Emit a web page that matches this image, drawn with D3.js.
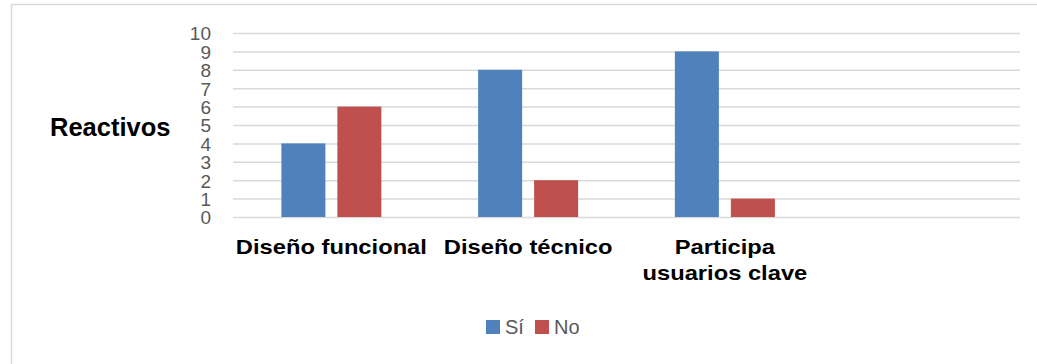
<!DOCTYPE html>
<html>
<head>
<meta charset="utf-8">
<script src="https://cdn.jsdelivr.net/npm/d3@7"></script>
<style>
  html, body { margin: 0; padding: 0; background: #fff; }
  svg { display: block; }
</style>
</head>
<body>
<svg id="chart" width="1037" height="364"></svg>
<script>
// Category slots (the last slot is left empty in the source sheet)
const categories = ["Diseño funcional", "Diseño técnico", "Participa usuarios clave", ""];
const categoryLines = [["Diseño funcional"], ["Diseño técnico"], ["Participa", "usuarios clave"], []];
const seriesNames = ["Sí", "No"];
const siValues = [4, 8, 9];
const noValues = [6, 2, 1];
const yTicks = [0, 1, 2, 3, 4, 5, 6, 7, 8, 9, 10];
const seriesColors = ["#4F81BD", "#C0504D"];

const svg = d3.select("#chart");

// Outer chart frame
svg.append("rect")
  .attr("x", 11.5).attr("y", 4.5)
  .attr("width", 1100).attr("height", 500)
  .attr("fill", "#fff")
  .attr("stroke", "#d9d9d9")
  .attr("stroke-width", 1.5);

const plot = { left: 233, right: 1020, top: 33, bottom: 217 };

const y = d3.scaleLinear().domain([0, 10]).range([plot.bottom, plot.top]);
const x0 = d3.scaleBand().domain(categories.map((c, i) => i)).range([plot.left, plot.right]).padding(0);
const x1 = d3.scaleBand().domain(seriesNames).range([0, x0.bandwidth()])
  .paddingInner(0.214).paddingOuter(0.864);

// Gridlines and value labels
const yAxis = d3.axisLeft(y).tickValues(yTicks).tickSize(-(plot.right - plot.left)).tickPadding(22);
const gAxis = svg.append("g").attr("transform", `translate(${plot.left},0)`).call(yAxis);
gAxis.select(".domain").remove();
gAxis.selectAll(".tick line").attr("stroke", "#d9d9d9").attr("stroke-width", 1.5);
gAxis.selectAll(".tick text")
  .attr("fill", "#595959")
  .attr("font-family", "'Liberation Sans', Arial, sans-serif")
  .attr("font-size", 19)
  .attr("dy", "0.36em");

// Bars
const rows = siValues.map((v, i) => ({ idx: i, values: [v, noValues[i]] }));
const groups = svg.append("g").selectAll("g").data(rows).join("g")
  .attr("transform", d => `translate(${x0(d.idx)},0)`);
groups.selectAll("rect")
  .data(d => d.values.map((v, k) => ({ key: seriesNames[k], value: v, k })))
  .join("rect")
  .attr("x", d => x1(d.key))
  .attr("width", x1.bandwidth())
  .attr("y", d => y(d.value))
  .attr("height", d => y(0) - y(d.value))
  .attr("fill", d => seriesColors[d.k]);

// Category labels (slightly widened lettering)
const catG = svg.append("g")
  .attr("font-family", "'Liberation Sans', Arial, sans-serif")
  .attr("font-weight", "bold")
  .attr("font-size", 21)
  .attr("fill", "#000")
  .attr("text-anchor", "middle");
categoryLines.forEach((lines, i) => {
  lines.forEach((ln, j) => {
    catG.append("text")
      .attr("transform", `translate(${x0(i) + x0.bandwidth() / 2},${253.5 + j * 26.5}) scale(1.13,1)`)
      .text(ln);
  });
});

// Axis title
svg.append("text")
  .attr("x", 50).attr("y", 135.5)
  .attr("font-family", "'Liberation Sans', Arial, sans-serif")
  .attr("font-weight", "bold")
  .attr("font-size", 25.5)
  .attr("fill", "#000")
  .text("Reactivos");

// Legend
const legend = svg.append("g").attr("transform", "translate(486,320)");
const legendItems = legend.selectAll("g").data(seriesNames).join("g")
  .attr("transform", (d, i) => `translate(${i * 49},0)`);
legendItems.append("rect")
  .attr("width", 14).attr("height", 14)
  .attr("fill", (d, i) => seriesColors[i]);
legendItems.append("text")
  .attr("x", 19).attr("y", 14)
  .attr("font-family", "'Liberation Sans', Arial, sans-serif")
  .attr("font-size", 20)
  .attr("fill", "#595959")
  .text(d => d);
</script>
</body>
</html>
